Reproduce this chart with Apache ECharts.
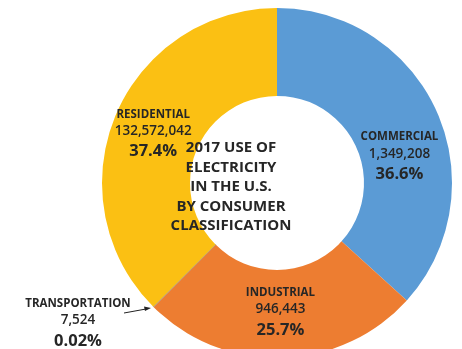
<!DOCTYPE html>
<html><head><meta charset="utf-8">
<script src="https://cdn.jsdelivr.net/npm/echarts@6/dist/echarts.min.js"></script>
<style>html,body{margin:0;padding:0;background:#fff}#c{width:462px;height:349px}</style>
</head><body><div id="c"></div>
<script>
var categories = ['COMMERCIAL', 'INDUSTRIAL', 'TRANSPORTATION', 'RESIDENTIAL'];
var counts = ['1,349,208', '946,443', '7,524', '132,572,042'];
var shares = [36.6, 25.7, 0.02, 37.4];
var shareLabels = ['36.6%', '25.7%', '0.02%', '37.4%'];
var colors = ['#5B9BD5', '#ED7D31', '#A5A5A5', '#FBC013'];
var centerTitle = '2017 USE OF\nELECTRICITY\nIN THE U.S.\nBY CONSUMER\nCLASSIFICATION';

var FONT = '"Open Sans", sans-serif';
var TXT = '#262626';
var chart = echarts.init(document.getElementById('c'), null, {renderer: 'canvas'});
var data = categories.map(function (c, i) {
  var d = {name: c, value: shares[i], itemStyle: {color: colors[i]}};
  if (i === 2) {
    d.itemStyle.borderColor = '#A5A5A5';
    d.itemStyle.borderWidth = 1;
  }
  return d;
});
var dyMap = [29, -4, 0, 3];
chart.setOption({
  animation: false,
  title: {
    text: centerTitle, left: 'center', top: 133,
    textStyle: {fontFamily: FONT, fontSize: 15, fontWeight: 'bold', color: TXT, lineHeight: 19.5}
  },
  graphic: [
    {type: 'line', shape: {x1: 124, y1: 313, x2: 146, y2: 309}, style: {stroke: '#222', lineWidth: 1}, z: 10},
    {type: 'polygon', shape: {points: [[151, 308], [144, 306.5], [145, 311]]}, style: {fill: '#222'}, z: 10}
  ],
  series: [{
    type: 'pie',
    center: [277, 183],
    radius: [87, 175],
    startAngle: 90,
    clockwise: true,
    avoidLabelOverlap: false,
    label: {
      show: true, position: 'inside',
      formatter: function (p) { return '{n|' + p.name + '}\n{v|' + counts[p.dataIndex] + '}\n{p|' + shareLabels[p.dataIndex] + '}'; },
      rich: {
        n: {fontFamily: FONT, fontSize: 11.5, fontWeight: 'bold', color: TXT, lineHeight: 17, align: 'center'},
        v: {fontFamily: FONT, fontSize: 13.5, fontWeight: 600, color: TXT, lineHeight: 17, align: 'center'},
        p: {fontFamily: FONT, fontSize: 16.5, fontWeight: 'bold', color: TXT, lineHeight: 24, align: 'center'}
      }
    },
    labelLine: {show: false},
    labelLayout: function (p) {
      if (p.dataIndex === 2) {
        return {x: 78, y: 324, align: 'center', verticalAlign: 'middle'};
      }
      return {dy: dyMap[p.dataIndex]};
    },
    data: data
  }]
});
</script></body></html>
